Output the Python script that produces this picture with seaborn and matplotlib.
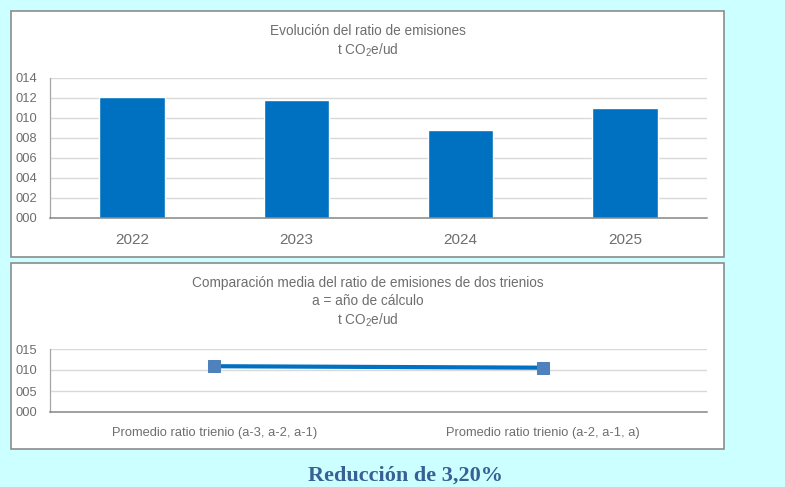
import matplotlib
matplotlib.use("Agg")
import matplotlib.pyplot as plt
from matplotlib.patches import Rectangle
from matplotlib.ticker import FuncFormatter, MultipleLocator
import seaborn as sns
from matplotlib import font_manager

# ---- data ----
years = ['2022', '2023', '2024', '2025']
ratios = [12.1, 11.8, 8.8, 11.0]
trienios = ['Promedio ratio trienio (a-3, a-2, a-1)', 'Promedio ratio trienio (a-2, a-1, a)']
promedios = [10.9, 10.55]
titulo1 = ['Evolución del ratio de emisiones', r't CO$\mathregular{_2}$e/ud']
titulo2 = ['Comparación media del ratio de emisiones de dos trienios',
           'a = año de cálculo', r't CO$\mathregular{_2}$e/ud']
resumen = 'Reducción de 3,20%'

sns.set_theme(style='white')
names = {f.name for f in font_manager.fontManager.ttflist}
fam = 'Liberation Sans Narrow' if 'Liberation Sans Narrow' in names else 'Liberation Sans'
plt.rcParams['font.family'] = [fam, 'DejaVu Sans']

W, H = 785, 487
fig = plt.figure(figsize=(W / 100, H / 100), dpi=100)
fig.patch.set_facecolor('#CCFFFF')

def box(x0, y0, x1, y1):
    fig.patches.append(Rectangle((x0 / W, 1 - y1 / H), (x1 - x0) / W, (y1 - y0) / H,
                                 transform=fig.transFigure, facecolor='white',
                                 edgecolor='#8C8C8C', linewidth=1.2, zorder=-5))

def axes_px(x0, y0, x1, y1):
    a = fig.add_axes([x0 / W, 1 - y1 / H, (x1 - x0) / W, (y1 - y0) / H])
    a.set_zorder(2)
    return a

GRAY = '#6E6E6E'
GRID = '#D9D9D9'

def style(ax):
    ax.set_facecolor('none')
    ax.patch.set_alpha(0)
    ax.grid(axis='y', color=GRID, linewidth=1)
    ax.set_axisbelow(True)
    for s in ['top', 'right']:
        ax.spines[s].set_visible(False)
    ax.spines['left'].set_color('#A6A6A6')
    ax.spines['left'].set_linewidth(0.9)
    ax.spines['bottom'].set_color('#868686')
    ax.spines['bottom'].set_linewidth(1.1)
    ax.tick_params(length=0, colors=GRAY)
    ax.yaxis.set_major_formatter(FuncFormatter(lambda v, p: f"{int(round(v)):03d}"))
    ax.set_xlabel('')
    ax.set_ylabel('')

# ---- top panel ----
box(11, 11, 724, 257)
ax1 = axes_px(50, 78, 707, 218)
sns.barplot(x=years, y=ratios, color='#0070C0', saturation=1, width=0.4, ax=ax1)
ax1.set_ylim(0, 14)
ax1.yaxis.set_major_locator(MultipleLocator(2))
ax1.set_xlim(-0.5, 3.5)
style(ax1)
ax1.tick_params(axis='y', labelsize=9.3, pad=9)
ax1.tick_params(axis='x', labelsize=11, pad=11)
fig.text(367.5 / W, 1 - 31 / H, titulo1[0], ha='center', va='center', fontsize=9.8, color=GRAY)
fig.text(367.5 / W, 1 - 50 / H, titulo1[1], ha='center', va='center', fontsize=9.8, color=GRAY)

# ---- bottom panel ----
box(11, 263, 724, 449)
ax2 = axes_px(50, 349, 707, 412)
sns.lineplot(x=trienios, y=promedios, color='#0070C0', linewidth=3, marker='s',
             markersize=8, markerfacecolor='#4F81BD', markeredgecolor='#4F81BD', ax=ax2)
ax2.set_ylim(0, 15)
ax2.yaxis.set_major_locator(MultipleLocator(5))
ax2.set_xlim(-0.5, 1.5)
style(ax2)
ax2.tick_params(axis='y', labelsize=9.3, pad=9)
ax2.tick_params(axis='x', labelsize=9.3, pad=11)
fig.text(367.5 / W, 1 - 283 / H, titulo2[0], ha='center', va='center', fontsize=9.8, color=GRAY)
fig.text(367.5 / W, 1 - 301 / H, titulo2[1], ha='center', va='center', fontsize=9.8, color=GRAY)
fig.text(367.5 / W, 1 - 320 / H, titulo2[2], ha='center', va='center', fontsize=9.8, color=GRAY)

# ---- summary ----
fig.text(405 / W, 1 - 476 / H, resumen, ha='center', va='center', fontsize=16,
         fontweight='bold', color='#3A5F95', family=['Liberation Serif', 'DejaVu Serif'])

fig.savefig('out.png', dpi=100, facecolor=fig.get_facecolor())
